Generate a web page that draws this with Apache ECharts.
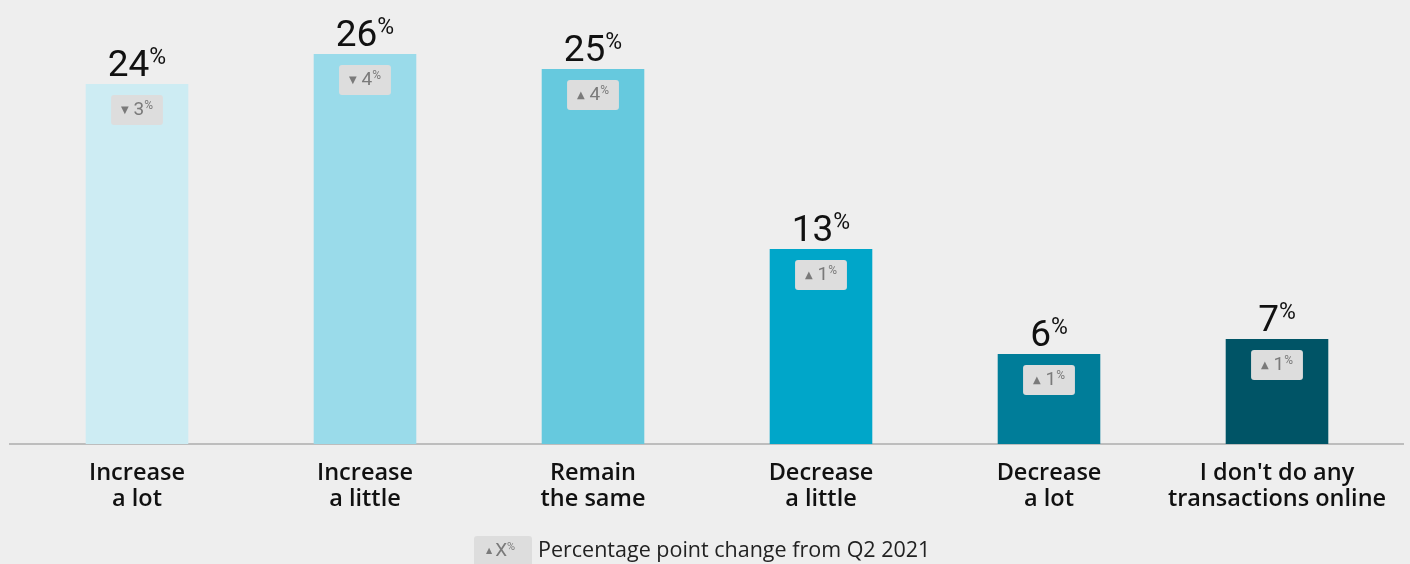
<!DOCTYPE html>
<html>
<head>
<meta charset="utf-8">
<script src="https://cdn.jsdelivr.net/npm/echarts@6/dist/echarts.min.js"></script>
<style>
  html, body { margin: 0; padding: 0; background: #eeeeee; }
  #container { width: 1410px; height: 564px; }
</style>
</head>
<body>
<div id="container"></div>
<script>
// categories and values
var categories = ['Increase\na lot', 'Increase\na little', 'Remain\nthe same', 'Decrease\na little', 'Decrease\na lot', "I don't do any\ntransactions online"];
var shares = [24, 26, 25, 13, 6, 7];
// percentage point change from Q2 2021 (negative = down)
var changes = [-3, -4, 4, 1, 1, 1];
var barColors = ['#cdecf3', '#9adbea', '#66c9de', '#00a6c9', '#007d99', '#005466'];

var myChart = echarts.init(document.getElementById('container'));

var option = {
    backgroundColor: '#eeeeee',
    animation: false,
    textStyle: { fontFamily: 'Roboto' },
    grid: { left: 23, right: 19, top: 24, bottom: 120 },
    xAxis: {
        type: 'category',
        data: categories,
        axisLine: { show: false },
        axisTick: { show: false },
        axisLabel: {
            interval: 0,
            margin: 16,
            fontSize: 23.5,
            fontWeight: 600,
            lineHeight: 26,
            color: '#111111',
            fontFamily: 'Open Sans'
        }
    },
    yAxis: {
        type: 'value',
        min: 0,
        max: 28,
        show: false,
        splitLine: { show: false }
    },
    series: [
        {
            // the bars with the big value labels
            type: 'bar',
            barWidth: '45%',
            data: shares.map(function (v, i) {
                return { value: v, itemStyle: { color: barColors[i] } };
            }),
            label: {
                show: true,
                position: 'top',
                distance: 0,
                offset: [0, 3],
                formatter: function (p) { return '{n|' + p.value + '}{p|%}'; },
                rich: {
                    n: { fontSize: 37, fontWeight: 'normal', color: '#111111', lineHeight: 40, fontFamily: 'Roboto' },
                    p: { fontSize: 23, color: '#111111', verticalAlign: 'top', lineHeight: 22, padding: [0, 0, 14, 0], fontFamily: 'Roboto' }
                }
            }
        },
        {
            // invisible overlay that carries the change badges
            type: 'bar',
            barWidth: '45%',
            barGap: '-100%',
            silent: true,
            data: shares,
            itemStyle: { color: 'rgba(0,0,0,0)' },
            label: {
                show: true,
                position: 'insideTop',
                distance: 11,
                backgroundColor: '#dddddd',
                borderRadius: 3,
                padding: [5, 10, 5, 10],
                formatter: function (p) {
                    var c = changes[p.dataIndex];
                    var arrow = c < 0 ? '▼' : '▲';
                    return '{t|' + arrow + '}{n| ' + Math.abs(c) + '}{p|%}';
                },
                rich: {
                    t: { fontSize: 10, color: '#7a7a7a', lineHeight: 20, fontFamily: 'DejaVu Sans' },
                    n: { fontSize: 19, color: '#7a7a7a', lineHeight: 20, fontFamily: 'Roboto' },
                    p: { fontSize: 12, color: '#7a7a7a', lineHeight: 12, padding: [0, 0, 8, 0], fontFamily: 'Roboto' }
                }
            }
        }
    ],
    graphic: [
        {
            type: 'rect',
            shape: { x: 9, y: 443, width: 1395, height: 2 },
            style: { fill: '#bdbdbd' },
            silent: true
        },
        {
            type: 'rect',
            shape: { x: 474, y: 536, width: 58, height: 30, r: 3 },
            style: { fill: '#dddddd' },
            silent: true
        },
        {
            type: 'text',
            x: 486, y: 551,
            style: {
                text: '{t|▲}{n|X}{p|%}',
                verticalAlign: 'middle',
                rich: {
                    t: { fontSize: 8, fill: '#7a7a7a', lineHeight: 20, fontFamily: 'DejaVu Sans', padding: [0, 3, 0, 0] },
                    n: { fontSize: 19, fill: '#7a7a7a', lineHeight: 20, fontFamily: 'Roboto' },
                    p: { fontSize: 11, fill: '#7a7a7a', lineHeight: 11, padding: [0, 0, 8, 0], fontFamily: 'Roboto' }
                }
            }
        },
        {
            type: 'text',
            x: 538, y: 551,
            style: {
                text: 'Percentage point change from Q2 2021',
                fontSize: 21.5,
                fontFamily: 'Open Sans',
                fill: '#222222',
                verticalAlign: 'middle'
            }
        }
    ]
};
myChart.setOption(option);
</script>
</body>
</html>
